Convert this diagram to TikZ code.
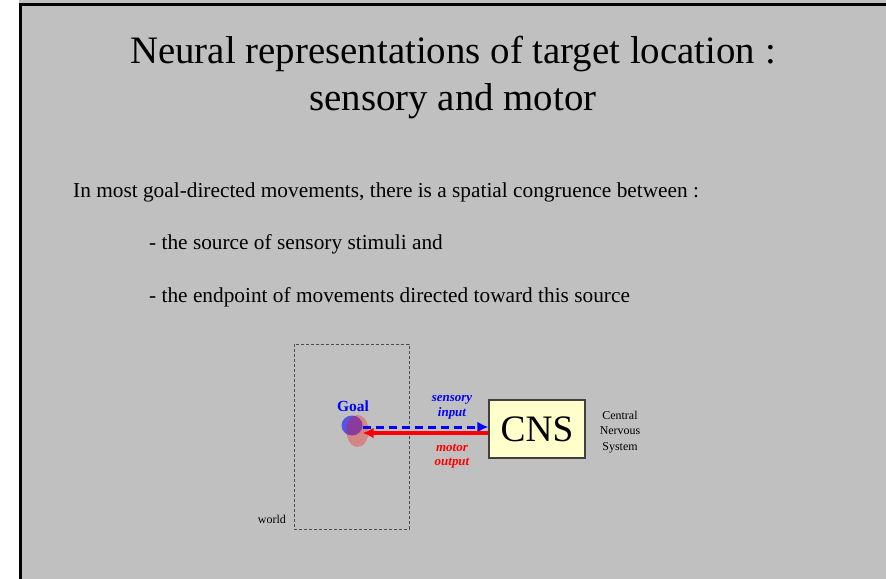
\documentclass[tikz,border=0pt]{standalone}
\usepackage{fontspec}
\setmainfont{Liberation Serif}
\usepackage{xcolor}
\usepackage{tikz}
\usetikzlibrary{shapes.geometric, arrows.meta, positioning}
\definecolor{slidegray}{HTML}{C0C0C0}
\definecolor{cnsfill}{HTML}{FFFFCC}
\definecolor{boxline}{HTML}{404040}
\tikzset{
    titletext/.style={anchor=base, inner sep=0pt, font=\fontsize{39}{47}\selectfont},
    bodytext/.style={anchor=base west, inner sep=0pt, font=\fontsize{21.4}{25}\selectfont},
    smalltext/.style={font=\fontsize{12}{15.5}\selectfont, align=center, inner sep=0pt},
    worldbox/.style={rectangle, draw=gray!60!black, line width=1bp, dash pattern=on 3bp off 2bp, minimum width=115bp, minimum height=185bp, inner sep=0pt},
    cnsbox/.style={rectangle, draw=boxline, fill=cnsfill, line width=1.5bp, minimum width=96bp, minimum height=58bp, inner sep=0pt, font=\fontsize{37.5}{40}\selectfont},
    arrowlabel/.style={font=\fontsize{13}{14.5}\selectfont\bfseries\itshape, align=center, inner sep=0pt},
    sensory/.style={draw=blue, line width=3bp, dash pattern=on 8bp off 5bp, -{Latex[length=11bp, width=11bp]}},
    motor/.style={draw=red, line width=4bp, -{Latex[length=11bp, width=11bp]}}
}

\begin{document}
\begin{tikzpicture}[x=1bp, y=-1bp]
            % Slide setup
            \useasboundingbox (0,0) rectangle (886,579);
            \fill[white] (0,0) rectangle (886,579);
            \fill[slidegray] (19,0) rectangle (886,579);
            \draw[line width=3bp] (19,4.5) -- (886,4.5);
            \draw[line width=3bp] (20.5,3) -- (20.5,579);

            % Title and text
            \node[titletext] (title1) at (453,64) {Neural representations of target location :};
            \node[titletext] (title2) at (453,111) {sensory and motor};
            \node[bodytext] (intro) at (73,197.5) {In most goal-directed movements, there is a spatial congruence between :};
            \node[bodytext] (item1) at (149,249.5) {- the source of sensory stimuli and};
            \node[bodytext] (item2) at (149,302) {- the endpoint of movements directed toward this source};

            % World and goal
            \node[worldbox] (world) at (351.5,436.5) {};
            \node[smalltext, anchor=east] (worldlabel) at (286,519) {world};
            \node[font=\fontsize{15.5}{17}\selectfont\bfseries, text=blue, inner sep=0pt] (goal) at (353,406) {Goal};
            \node[ellipse, fill=blue, fill opacity=0.55, minimum width=21bp, minimum height=20bp, inner sep=0pt] (goalblue) at (352,425.5) {};
            \node[ellipse, fill=red, fill opacity=0.3, minimum width=22bp, minimum height=32bp, inner sep=0pt] (goalred) at (357.5,431) {};

            % CNS
            \node[cnsbox] (cns) at (537,429) {CNS};
            \node[smalltext] (cnsname) at (620,432) {Central\\Nervous\\System};

            % Arrows between goal and CNS
            \draw[sensory] (goalblue.east |- 0,427) -- (cns.west |- 0,427);
            \draw[motor] (cns.west |- 0,433) -- (goalblue.east |- 0,433);
            \node[arrowlabel, text=blue] (sensorylabel) at (452,407.5) {sensory\\input};
            \node[arrowlabel, text=red] (motorlabel) at (452,456) {motor\\output};
        \end{tikzpicture}
\end{document}
